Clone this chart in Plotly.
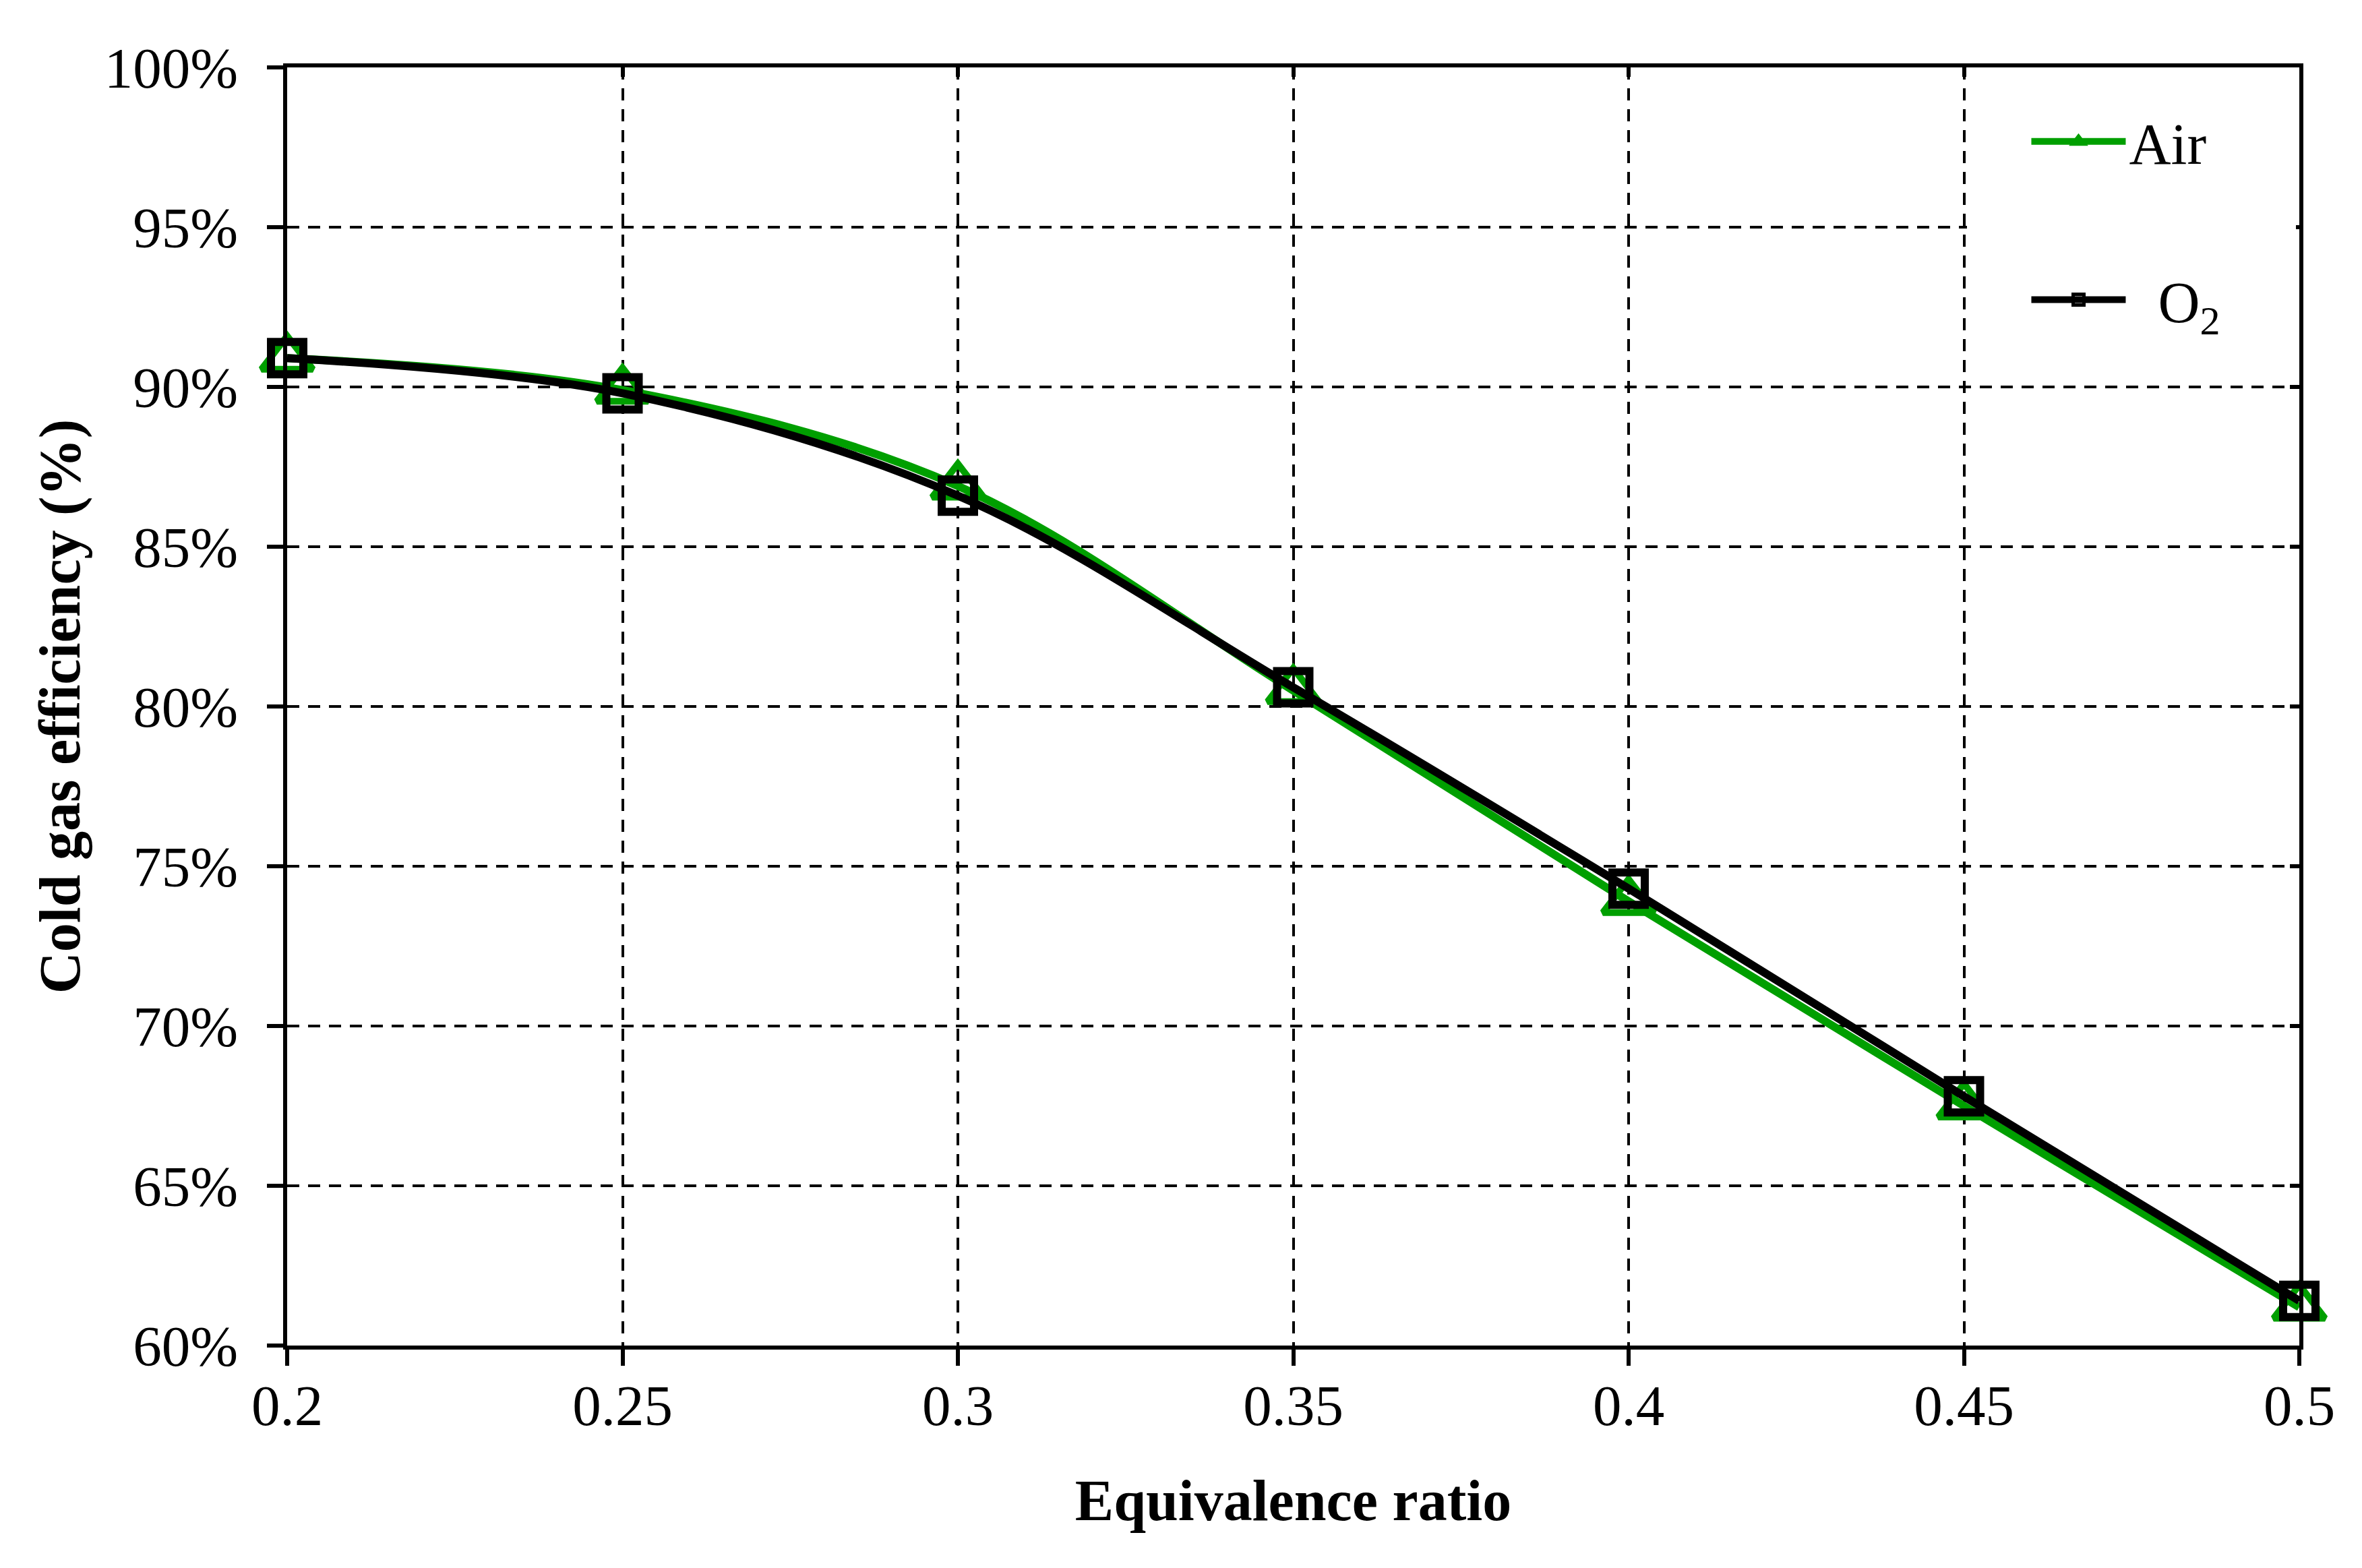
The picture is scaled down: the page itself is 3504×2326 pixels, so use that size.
import plotly.graph_objects as go

# equivalence ratio and cold gas efficiency (fraction)
er = [0.2, 0.25, 0.3, 0.35, 0.4, 0.45, 0.5]
cge_air = [0.909, 0.899, 0.869, 0.805, 0.739, 0.675, 0.612]
cge_o2 = [0.909, 0.898, 0.866, 0.806, 0.743, 0.678, 0.614]

x_ticks = [0.2, 0.25, 0.3, 0.35, 0.4, 0.45, 0.5]
x_labels = ["0.2", "0.25", "0.3", "0.35", "0.4", "0.45", "0.5"]
y_ticks = [0.6, 0.65, 0.7, 0.75, 0.8, 0.85, 0.9, 0.95, 1.0]
y_labels = ["60%", "65%", "70%", "75%", "80%", "85%", "90%", "95%", "100%"]

FONT = "Liberation Serif"
green = "#009f00"

fig = go.Figure()

fig.add_trace(go.Scatter(
    x=er, y=cge_air, name="Air", mode="lines+markers",
    line=dict(color=green, width=12, shape="spline", smoothing=1),
    marker=dict(symbol="triangle-up-open", size=66, color=green,
                line=dict(color=green, width=10)),
    cliponaxis=False, legendgroup="a",
))
fig.add_trace(go.Scatter(
    x=er, y=cge_o2,
    name="&nbsp;&nbsp;O<sub>2</sub>&nbsp;&nbsp;&nbsp;&nbsp;&nbsp;",
    mode="lines+markers",
    line=dict(color="black", width=12, shape="spline", smoothing=1),
    marker=dict(symbol="square-open", size=48, color="black",
                line=dict(color="black", width=12)),
    cliponaxis=False, legendgroup="b",
))
# empty trace so the mirrored (inside-tick) axes get drawn
fig.add_trace(go.Scatter(x=[], y=[], xaxis="x2", yaxis="y2", showlegend=False))

axis_font = dict(family=FONT, size=85, color="black")
title_font = dict(family=FONT, size=86, color="black", weight="bold")
grid_dash = "18px,13px"

fig.update_layout(
    width=3504, height=2326,
    paper_bgcolor="white", plot_bgcolor="white",
    margin=dict(l=418, r=101, t=92, b=338),
    font=dict(family=FONT, color="black"),
    xaxis=dict(
        range=[0.2, 0.5], tickvals=x_ticks, ticktext=x_labels,
        showline=True, linecolor="black", linewidth=6, mirror=True,
        ticks="outside", ticklen=24, tickwidth=6, tickcolor="black",
        ticklabelstandoff=-14,
        showgrid=True, gridcolor="black", gridwidth=4, griddash=grid_dash,
        zeroline=False, tickfont=axis_font,
        title=dict(text="Equivalence ratio", font=title_font, standoff=66),
    ),
    yaxis=dict(
        range=[0.6, 1.0], tickvals=y_ticks, ticktext=y_labels,
        showline=True, linecolor="black", linewidth=6, mirror=True,
        ticks="outside", ticklen=24, tickwidth=6, tickcolor="black",
        ticklabelstandoff=26,
        showgrid=True, gridcolor="black", gridwidth=4, griddash=grid_dash,
        zeroline=False, tickfont=axis_font,
        title=dict(text="Cold gas efficiency (%)", font=title_font, standoff=10),
    ),
    xaxis2=dict(
        overlaying="x", side="top", anchor="y2", range=[0.2, 0.5],
        tickvals=x_ticks, ticks="inside", ticklen=14, tickwidth=6,
        tickcolor="black", showticklabels=False, showgrid=False,
        zeroline=False, showline=False,
    ),
    yaxis2=dict(
        overlaying="y", side="right", anchor="x2", range=[0.6, 1.0],
        tickvals=y_ticks, ticks="inside", ticklen=14, tickwidth=6,
        tickcolor="black", showticklabels=False, showgrid=False,
        zeroline=False, showline=False,
    ),
    legend=dict(
        x=0.835, y=0.975, xanchor="left", yanchor="top",
        bgcolor="white", borderwidth=0, indentation=90,
        font=dict(family=FONT, size=86, color="black"),
        itemwidth=140, tracegroupgap=120, traceorder="grouped",
    ),
    showlegend=True,
)

fig.write_html("out.html")
